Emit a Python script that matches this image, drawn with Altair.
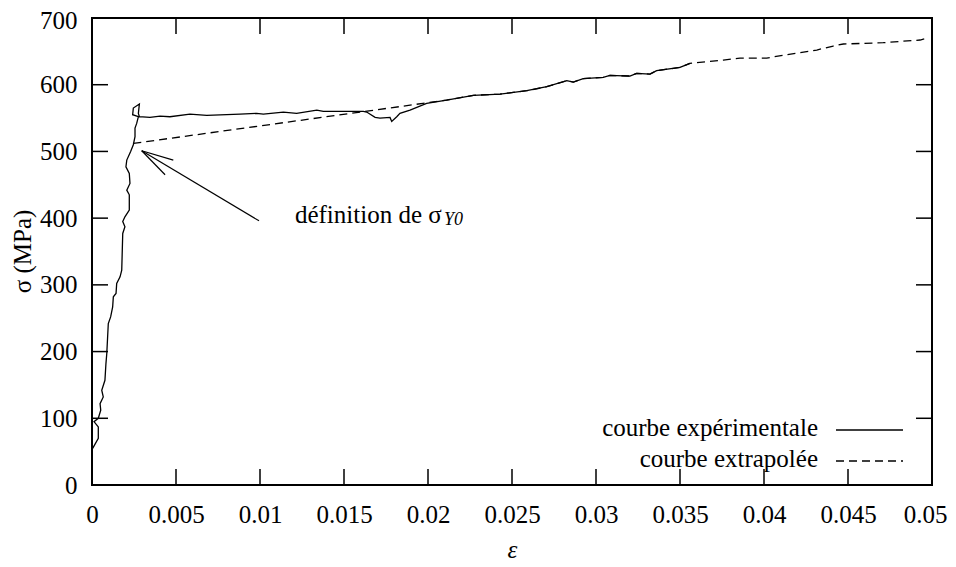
import altair as alt
import pandas as pd

# ---- data ----
exp_eps = [0.00004, 0.000375, 0.000375, 0.00012, 0.000375, 0.00052, 0.00048, 0.00067, 0.00058, 0.00077,
           0.00083, 0.00088, 0.00097, 0.00111, 0.00123, 0.00127, 0.00143, 0.00147, 0.00167, 0.00177,
           0.00183, 0.00196, 0.00183, 0.00196, 0.00222, 0.00222, 0.00207, 0.00226, 0.00222, 0.00202,
           0.00207, 0.0023, 0.00246, 0.00256, 0.00256, 0.00266, 0.00276, 0.00242, 0.00246, 0.00282,
           0.00276, 0.00282, 0.00345, 0.00405, 0.00464, 0.00583, 0.00683, 0.00881, 0.0098, 0.0102,
           0.01139, 0.01218, 0.01338, 0.01377, 0.01615, 0.01635, 0.01685, 0.01714, 0.01774, 0.01784,
           0.01814, 0.01833, 0.01893, 0.01992, 0.02111, 0.0227, 0.02429, 0.02588, 0.02707, 0.02826,
           0.02865, 0.02924, 0.03043, 0.03083, 0.03202, 0.03242, 0.03321, 0.03361, 0.035, 0.03559]
exp_sig = [55, 70, 87, 95, 100, 112, 122, 132, 142, 157,
           182, 197, 242, 252, 267, 282, 287, 302, 312, 322,
           377, 387, 395, 402, 412, 435, 442, 452, 467, 477,
           487, 500, 510, 522, 535, 542, 552, 555, 565, 571,
           557, 552, 551, 553, 552, 556, 554, 556, 557, 556,
           559, 557, 562, 560, 560, 559, 551, 550, 551, 545,
           552, 557, 562, 572, 577, 584, 586, 591, 597, 606,
           604, 609, 611, 614, 613, 617, 616, 621, 626, 632]

ext_eps = [0.00246, 0.0197, 0.02111, 0.0227, 0.02429, 0.02588, 0.02707, 0.02826, 0.02865, 0.02924,
           0.03043, 0.03083, 0.03202, 0.03242, 0.03321, 0.03361, 0.035, 0.03559, 0.03758, 0.03857,
           0.04016, 0.04135, 0.04314, 0.04412, 0.04472, 0.0471, 0.04929, 0.04976]
ext_sig = [512, 572, 577, 584, 586, 591, 597, 606, 604, 609,
           611, 614, 613, 617, 616, 621, 626, 632, 637, 640,
           640, 645, 652, 658, 661, 663, 667, 670]

x_ticks = [0, 0.005, 0.01, 0.015, 0.02, 0.025, 0.03, 0.035, 0.04, 0.045, 0.05]
y_ticks = [0, 100, 200, 300, 400, 500, 600, 700]

# annotation arrow segments (start -> end)
arrow_x = [0.00994, 0.00296, 0.00296]
arrow_y = [396, 501, 501]
arrow_x2 = [0.00296, 0.00484, 0.00435]
arrow_y2 = [501, 487, 465]

annot_text = "définition de σ"
annot_sub = "Y0"
annot_pos = (0.01208, 405)
annot_sub_pos = (0.02095, 397)

legend_labels = ["courbe expérimentale", "courbe extrapolée"]

FONT = "Liberation Serif"
FS = 25
W, H = 840, 467

xs = alt.Scale(domain=[0, 0.05], nice=False, zero=False)
ys = alt.Scale(domain=[0, 700], nice=False, zero=False)

exp_df = pd.DataFrame({"i": range(len(exp_eps)), "eps": exp_eps, "sig": exp_sig})
ext_df = pd.DataFrame({"i": range(len(ext_eps)), "eps": ext_eps, "sig": ext_sig})
xt_df = pd.DataFrame({"eps": x_ticks})
yt_df = pd.DataFrame({"sig": y_ticks})
arr_df = pd.DataFrame({"eps": arrow_x, "sig": arrow_y, "x2": arrow_x2, "y2": arrow_y2})

x_axis = alt.Axis(values=x_ticks, format=".3~f", grid=False, domain=False, ticks=False, tickSize=0,
                  labelFlush=False, labelOverlap=False,
                  labelOffset=alt.ExprRef(expr="datum.value >= 0.0499 ? -7 : 0"),
                  labelFont=FONT, labelFontSize=FS, labelPadding=17, labelColor="black",
                  title="ε", titleFont=FONT, titleFontSize=FS, titleFontStyle="italic",
                  titleFontWeight="normal", titleColor="black",
                  titleX=420, titleY=64, titleBaseline="middle", titleAlign="center")
y_axis = alt.Axis(values=y_ticks, grid=False, domain=False, ticks=False, tickSize=0,
                  labelFlush=False, labelOverlap=False,
                  labelOffset=alt.ExprRef(expr="datum.value >= 699 ? 2 : 0"),
                  labelFont=FONT, labelFontSize=FS, labelPadding=15, labelColor="black",
                  title="σ (MPa)", titleFont=FONT, titleFontSize=FS, titleFontWeight="normal",
                  titleColor="black", titleX=-70, titleY=233, titleBaseline="middle",
                  titleAlign="center", titleAngle=270)


def X(field="eps"):
    return alt.X(f"{field}:Q", scale=xs, axis=x_axis)


def Y(field="sig"):
    return alt.Y(f"{field}:Q", scale=ys, axis=y_axis)


exp_line = alt.Chart(exp_df).mark_line(color="black", strokeWidth=1.3).encode(
    x=X(), y=Y(), order="i:Q")
ext_line = alt.Chart(ext_df).mark_line(color="black", strokeWidth=1.3, strokeDash=[8, 5]).encode(
    x=X(), y=Y(), order="i:Q")

TL = 16
tick_style = dict(color="black", strokeWidth=1.5)
bt = alt.Chart(xt_df).mark_rule(**tick_style).encode(x=X(), y=alt.value(H), y2=alt.value(H - TL))
tt = alt.Chart(xt_df).mark_rule(**tick_style).encode(x=X(), y=alt.value(0), y2=alt.value(TL))
lt = alt.Chart(yt_df).mark_rule(**tick_style).encode(y=Y(), x=alt.value(0), x2=alt.value(TL))
rt = alt.Chart(yt_df).mark_rule(**tick_style).encode(y=Y(), x=alt.value(W), x2=alt.value(W - TL))

arrow = alt.Chart(arr_df).mark_rule(color="black", strokeWidth=1.2).encode(
    x=X(), y=Y(), x2="x2:Q", y2="y2:Q")

one = alt.Data(values=[{"a": 1}])
ann = alt.Chart(pd.DataFrame({"eps": [annot_pos[0]], "sig": [annot_pos[1]]})).mark_text(
    text=annot_text, font=FONT, fontSize=FS, align="left", baseline="middle", color="black").encode(
    x=X(), y=Y())
ann_sub = alt.Chart(pd.DataFrame({"eps": [annot_sub_pos[0]], "sig": [annot_sub_pos[1]]})).mark_text(
    text=annot_sub, font=FONT, fontSize=18, fontStyle="italic", align="left", baseline="middle",
    color="black").encode(x=X(), y=Y())

leg1 = alt.Chart(one).mark_text(text=legend_labels[0], font=FONT, fontSize=FS, align="right",
                                baseline="middle", color="black").encode(
    x=alt.value(726), y=alt.value(410))
leg2 = alt.Chart(one).mark_text(text=legend_labels[1], font=FONT, fontSize=FS, align="right",
                                baseline="middle", color="black").encode(
    x=alt.value(726), y=alt.value(441))
legl1 = alt.Chart(one).mark_rule(color="black", strokeWidth=1.3).encode(
    x=alt.value(744), x2=alt.value(811), y=alt.value(412))
legl2 = alt.Chart(one).mark_rule(color="black", strokeWidth=1.3, strokeDash=[8, 5]).encode(
    x=alt.value(744), x2=alt.value(811), y=alt.value(443))

chart = alt.layer(exp_line, ext_line, bt, tt, lt, rt, arrow, ann, ann_sub, leg1, leg2, legl1, legl2).properties(
    width=W, height=H,
    background="white",
    autosize=alt.AutoSizeParams(type="none"),
    padding={"left": 84, "top": 10, "right": 16, "bottom": 80},
).configure_view(stroke="black", strokeWidth=2)

chart.save("out.html", embed_options={"renderer": "svg", "actions": False})
